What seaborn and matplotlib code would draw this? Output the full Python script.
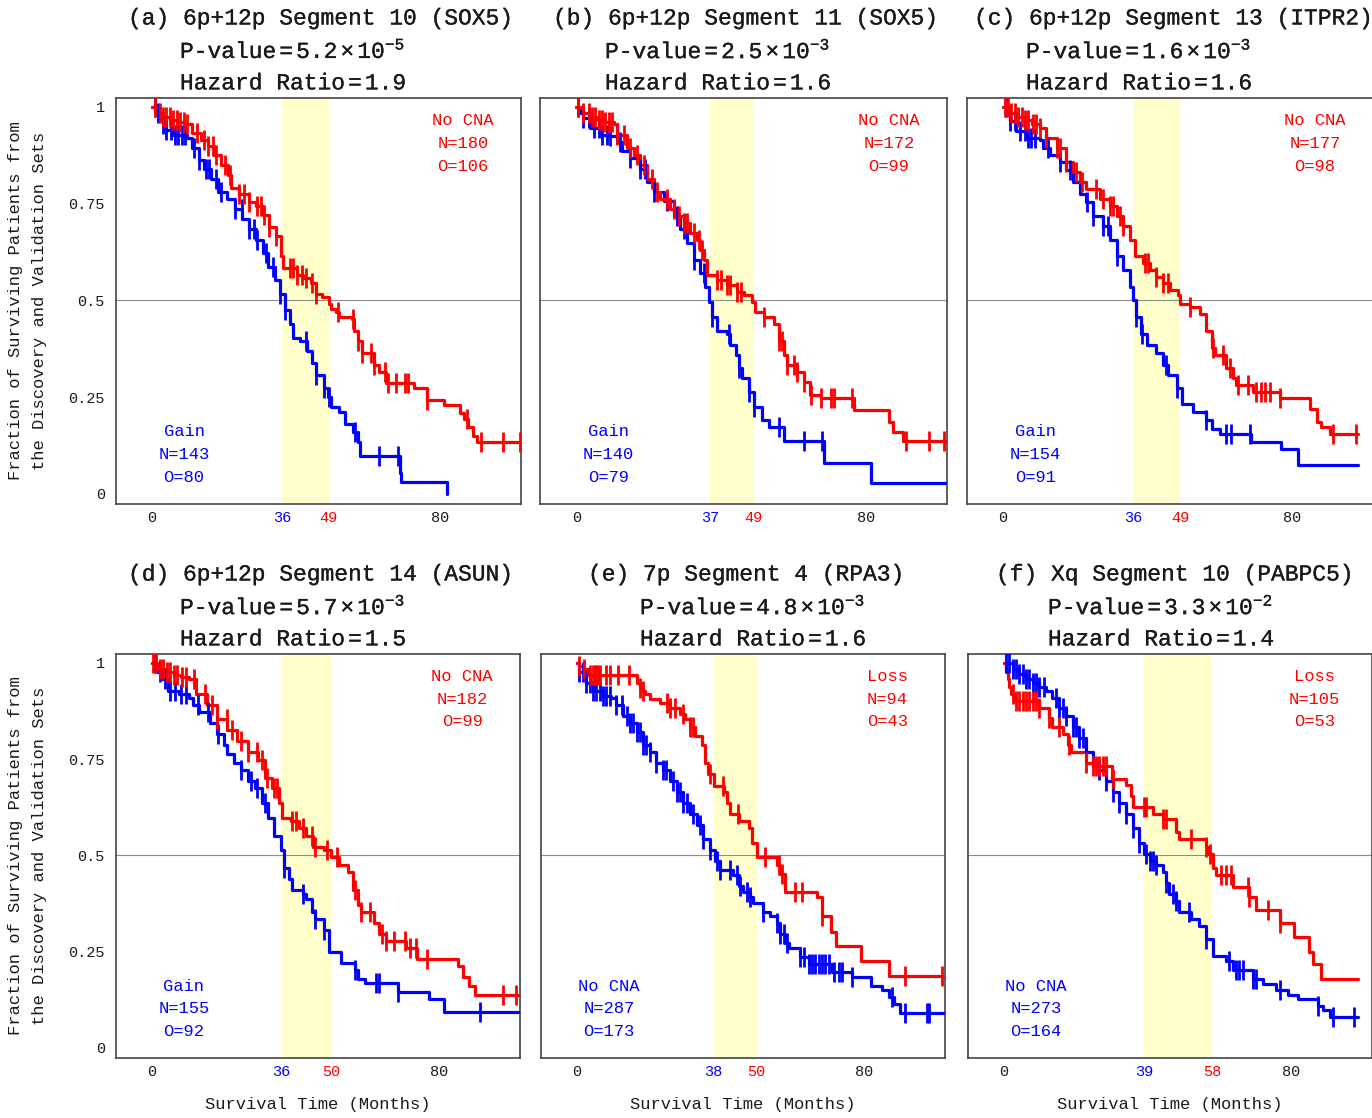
import numpy as np
import matplotlib
matplotlib.use("Agg")
import matplotlib.pyplot as plt
import matplotlib.patheffects as pe
import seaborn as sns

# ---------------- data ----------------
titles = ["(a) 6p+12p Segment 10 (SOX5)", "(b) 6p+12p Segment 11 (SOX5)",
          "(c) 6p+12p Segment 13 (ITPR2)", "(d) 6p+12p Segment 14 (ASUN)",
          "(e) 7p Segment 4 (RPA3)", "(f) Xq Segment 10 (PABPC5)"]
p_mant = ["5.2", "2.5", "1.6", "5.7", "4.8", "3.3"]
p_exp = ["-5", "-3", "-3", "-3", "-3", "-2"]
hazard = ["1.9", "1.6", "1.6", "1.5", "1.6", "1.4"]
red_labels = ["No CNA", "No CNA", "No CNA", "No CNA", "Loss", "Loss"]
blue_labels = ["Gain", "Gain", "Gain", "Gain", "No CNA", "No CNA"]
red_N = [180, 172, 177, 182, 94, 105]
red_O = [106, 99, 98, 99, 43, 53]
blue_N = [143, 140, 154, 155, 287, 273]
blue_O = [80, 79, 91, 92, 173, 164]
blue_median = [36, 37, 36, 36, 38, 39]
red_median = [49, 49, 49, 50, 50, 58]

# panel a
a_red_t = [0, 1.5, 3, 5, 7, 9, 11, 13.5, 15.4, 17.3, 19.2, 21, 22, 24, 26.9, 28.8, 30.7, 32.6, 34.5, 35.9, 36.4,
           40.2, 42, 44, 45.4, 47.3, 49.2, 49.7, 51.1, 52, 55.4, 56, 57.3, 58.3, 61.6, 63.1, 65, 72.6, 76.4, 81.1,
           85.4, 86.5, 87.8, 89, 90.2, 102.4]
a_red_s = [1, 0.985, 0.975, 0.965, 0.96, 0.955, 0.933, 0.915, 0.9, 0.876, 0.85, 0.823, 0.79, 0.775, 0.753, 0.745,
           0.72, 0.69, 0.666, 0.614, 0.583, 0.566, 0.557, 0.544, 0.517, 0.509, 0.491, 0.478, 0.469, 0.456, 0.452,
           0.421, 0.395, 0.364, 0.334, 0.316, 0.286, 0.273, 0.242, 0.229, 0.21, 0.194, 0.172, 0.15, 0.133, 0.133]
a_red_c = [0.7, 2.1, 3.0, 4.0, 4.9, 5.9, 6.9, 7.8, 8.8, 9.7, 12.6, 14.5, 15.4, 16.9, 17.8, 20.2, 21.6, 24.0, 25.4,
           26.9, 29.2, 30.2, 31.1, 32.6, 34.5, 38.3, 39.2, 40.2, 41.6, 42.6, 44.5, 45.4, 51.6, 55.9, 57.3, 58.3,
           60.7, 61.6, 64.6, 65.5, 67.8, 70.2, 71.1, 76.4, 87.4, 91.2, 97.4, 102.2]
a_blue_t = [0, 1, 2, 3, 4, 5.9, 9.7, 11, 13, 14.5, 16.4, 18.3, 20.7, 23, 25, 26.9, 28.8, 30.7, 32.1, 34, 35.4, 36.9,
            38.3, 39.2, 41, 43, 44.5, 45.4, 47.8, 48.8, 49.7, 52, 53.5, 55.9, 57.3, 57.8, 68.8, 69.2, 82]
a_blue_s = [1, 0.985, 0.972, 0.955, 0.94, 0.928, 0.92, 0.893, 0.863, 0.84, 0.815, 0.78, 0.762, 0.736, 0.71, 0.684,
            0.657, 0.622, 0.587, 0.552, 0.517, 0.474, 0.439, 0.404, 0.395, 0.369, 0.338, 0.308, 0.273, 0.251, 0.225,
            0.212, 0.181, 0.159, 0.133, 0.098, 0.054, 0.032, 0.0]
a_blue_c = [0.7, 1.6, 3.0, 4.0, 5.4, 6.4, 7.3, 8.3, 9.2, 11.6, 13.0, 14.9, 15.8, 17.7, 19.2, 23.0, 24.9, 26.9, 28.2,
            29.2, 31.6, 33.5, 35.4, 36.9, 42.6, 45.4, 47.8, 49.2, 56.4, 63.1, 68.3]

# panel b
b_red_t = [0, 2, 4, 6, 8, 10.3, 11.3, 14, 15.9, 17.7, 19.6, 21.4, 23.2, 26, 27.9, 29.7, 31.5, 33.4, 34.3, 35.2, 36.2,
           38.9, 41.7, 44.5, 46.3, 48.6, 49.5, 51.8, 54.6, 56, 57.3, 58.3, 61, 62.9, 64.7, 67.5, 76.8, 86.5, 87.5,
           90.2, 102.7]
b_red_s = [1, 0.985, 0.975, 0.965, 0.96, 0.955, 0.928, 0.893, 0.876, 0.85, 0.815, 0.78, 0.762, 0.736, 0.718, 0.7,
           0.675, 0.657, 0.63, 0.605, 0.566, 0.552, 0.539, 0.522, 0.513, 0.496, 0.469, 0.456, 0.439, 0.395, 0.36,
           0.334, 0.316, 0.29, 0.255, 0.247, 0.216, 0.185, 0.159, 0.137, 0.137]
b_red_c = [0.6, 2.0, 3.4, 4.3, 5.3, 6.2, 7.1, 8.0, 9.0, 9.9, 11.3, 13.1, 14.9, 16.8, 18.6, 20.9, 22.3, 25.1, 26.9,
           28.3, 29.7, 30.6, 32.5, 33.9, 34.8, 38.9, 39.9, 41.7, 42.6, 44.5, 45.4, 51.8, 56.0, 56.9, 58.3, 60.2,
           61.1, 62.9, 64.8, 67.5, 70.3, 71.2, 76.3, 91.1, 97.5, 101.7]
b_blue_t = [0, 1, 2, 3.9, 6.6, 9.4, 11.3, 12.6, 14.9, 17.7, 19.6, 21.4, 24.2, 26.9, 28.8, 30.6, 32.5, 34.3, 35.7,
            36.6, 37.5, 38.9, 41.7, 42.6, 44, 44.9, 45.8, 47.7, 49, 51.4, 53.3, 57.4, 68.4, 81.4, 102.7]
b_blue_s = [1, 0.985, 0.972, 0.946, 0.928, 0.924, 0.91, 0.885, 0.867, 0.84, 0.806, 0.78, 0.758, 0.718, 0.684, 0.649,
            0.605, 0.57, 0.535, 0.496, 0.456, 0.421, 0.413, 0.386, 0.36, 0.325, 0.299, 0.264, 0.225, 0.19, 0.172,
            0.137, 0.08, 0.028, 0.028]
b_blue_c = [0.6, 2.0, 3.4, 4.8, 6.2, 7.1, 8.5, 9.4, 12.2, 14.9, 17.7, 19.1, 21.4, 25.1, 27.9, 29.7, 32.5, 35.2, 37.6,
            42.2, 44.9, 47.7, 49.1, 56.0, 62.9, 68.0]

# panel c
c_red_t = [0, 2, 4, 6, 8, 10.1, 12, 14.8, 17.5, 19.4, 21.2, 23, 26.8, 29.5, 31.4, 33.2, 35, 36.4, 38.7, 40.6, 42.4,
           44.3, 46.1, 48.4, 48.9, 51.7, 54.4, 56.3, 57.7, 58.6, 61.8, 63.7, 64.6, 69.2, 76.6, 84.9, 86.8, 88.1,
           90.4, 98.3]
c_red_s = [1, 0.985, 0.975, 0.965, 0.955, 0.946, 0.92, 0.893, 0.858, 0.832, 0.806, 0.788, 0.762, 0.745, 0.718, 0.692,
           0.657, 0.614, 0.596, 0.579, 0.561, 0.544, 0.526, 0.513, 0.491, 0.483, 0.465, 0.421, 0.378, 0.36, 0.325,
           0.299, 0.281, 0.264, 0.247, 0.22, 0.185, 0.172, 0.155, 0.155]
c_red_c = [0.5, 1.4, 2.3, 3.2, 4.2, 5.1, 6.0, 6.9, 8.3, 9.2, 10.1, 12.0, 14.8, 15.7, 17.5, 20.3, 21.7, 25.8, 27.7,
           29.5, 30.4, 32.3, 33.2, 39.2, 40.1, 42.4, 44.3, 45.7, 51.7, 58.1, 60.9, 62.7, 65.0, 67.8, 70.1, 71.5,
           72.4, 73.8, 76.6, 91.3, 97.8]
c_blue_t = [0, 1.8, 3.7, 6.5, 10.1, 11.1, 12.9, 15.7, 17.5, 19.4, 21.2, 23, 24.9, 27.7, 29.5, 31.4, 33.2, 35, 36,
            36.9, 38.3, 39.7, 42.4, 44.3, 45.6, 48, 49.4, 52.6, 56.3, 57.7, 60, 68.7, 77, 81.6, 98.3]
c_blue_s = [1, 0.963, 0.937, 0.92, 0.915, 0.893, 0.876, 0.858, 0.837, 0.806, 0.776, 0.753, 0.718, 0.692, 0.657,
            0.614, 0.579, 0.535, 0.5, 0.456, 0.413, 0.386, 0.365, 0.334, 0.308, 0.273, 0.233, 0.212, 0.19, 0.168,
            0.155, 0.133, 0.115, 0.076, 0.076]
c_blue_c = [0.9, 1.8, 3.2, 4.6, 6.0, 6.9, 7.8, 8.8, 12.5, 15.7, 18.5, 23.1, 24.9, 27.7, 29.1, 31.4, 36.9, 38.4,
            45.2, 48.0, 56.3, 61.8, 63.2, 68.3]

# panel d
d_red_t = [0, 2, 4, 6, 8, 10.4, 12.3, 15.2, 18, 21, 23.8, 26.7, 29.5, 31.5, 33.4, 35.3, 36.3, 38.7, 41, 43, 44.9,
           47.8, 49.7, 52.1, 54.5, 55.9, 57.4, 58.3, 61.7, 63.1, 65, 70.8, 73.7, 85.2, 86.6, 88.1, 90, 102.2]
d_red_s = [1, 0.985, 0.975, 0.968, 0.962, 0.957, 0.919, 0.891, 0.853, 0.825, 0.796, 0.768, 0.749, 0.702, 0.674,
           0.636, 0.598, 0.589, 0.57, 0.551, 0.523, 0.514, 0.495, 0.476, 0.457, 0.41, 0.372, 0.353, 0.325, 0.297,
           0.278, 0.259, 0.231, 0.212, 0.184, 0.16, 0.137, 0.137]
d_red_c = [0.3, 1.2, 2.2, 3.2, 4.1, 5.1, 6.0, 7.0, 8.4, 9.4, 11.8, 14.7, 16.6, 18.0, 20.9, 22.4, 24.7, 26.7, 29.1,
           30.5, 32.0, 33.9, 34.8, 39.1, 40.1, 42.0, 44.4, 45.4, 48.7, 51.6, 56.4, 58.3, 60.7, 64.1, 65.0, 67.4,
           70.3, 71.7, 73.6, 76.5, 97.6, 101.4]
d_blue_t = [0, 1.5, 2.7, 4.6, 7.5, 10.4, 11.3, 13.2, 16.1, 18, 20, 21, 22.8, 24.7, 26.7, 28.6, 30.5, 32.4, 33.9,
            35.8, 36.7, 38.2, 39.1, 42, 43, 44.4, 45.4, 47.8, 49.2, 52.6, 56.4, 57.4, 59.3, 68.4, 77, 81.3, 102.2]
d_blue_s = [1, 0.975, 0.957, 0.928, 0.919, 0.91, 0.891, 0.872, 0.844, 0.815, 0.787, 0.763, 0.74, 0.721, 0.693, 0.674,
            0.636, 0.598, 0.551, 0.514, 0.467, 0.438, 0.41, 0.4, 0.386, 0.353, 0.334, 0.306, 0.25, 0.221, 0.203,
            0.179, 0.17, 0.146, 0.127, 0.094, 0.094]
d_blue_c = [0.8, 2.2, 3.6, 5.1, 6.5, 8.0, 9.4, 12.8, 15.6, 18.5, 24.7, 27.6, 29.1, 31.5, 36.7, 42.0, 45.4, 47.8,
            56.4, 62.2, 63.1, 68.4, 91.4]

# panel e
e_red_t = [0, 0.7, 1.7, 3.1, 16.6, 17.5, 18.4, 18.9, 20.3, 23, 25.9, 28.7, 30, 31.4, 32.8, 34.7, 35.6, 36.6, 38,
           40.8, 41.7, 42.7, 45, 47.8, 48.7, 50, 55.6, 56.6, 57.9, 66.8, 68.2, 70.6, 72, 78.9, 86.8, 102.6]
e_red_s = [1, 0.993, 0.985, 0.968, 0.947, 0.935, 0.928, 0.919, 0.905, 0.896, 0.882, 0.868, 0.853, 0.834, 0.811,
           0.787, 0.74, 0.711, 0.679, 0.664, 0.636, 0.608, 0.589, 0.57, 0.532, 0.495, 0.476, 0.453, 0.405, 0.391,
           0.344, 0.302, 0.264, 0.226, 0.188, 0.188]
e_red_c = [0.7, 2.1, 3.5, 4.5, 4.9, 5.4, 5.9, 6.3, 8.2, 9.1, 11.4, 14.5, 17.5, 18.4, 25.0, 25.9, 27.3, 29.6, 31.4,
           32.4, 37.0, 40.7, 44.9, 52.4, 56.1, 57.0, 60.7, 62.6, 68.2, 91.4, 101.7]
e_blue_t = [0, 0.7, 2.6, 4.5, 7.3, 9.6, 11, 12.8, 14.7, 16.6, 18.4, 20.3, 22.1, 24, 25.9, 27.7, 29.6, 31.4, 33.3,
            35.2, 37, 38.4, 39.8, 43.5, 45, 46.3, 48.2, 49.1, 51.9, 53.8, 55.6, 56.6, 58, 58.9, 62.1, 64.5, 71, 76.6,
            81.7, 84.9, 86.8, 88.2, 90, 102.6]
e_blue_s = [1, 0.976, 0.947, 0.928, 0.914, 0.91, 0.891, 0.862, 0.844, 0.82, 0.787, 0.768, 0.74, 0.721, 0.693, 0.664,
            0.636, 0.608, 0.58, 0.542, 0.514, 0.486, 0.462, 0.448, 0.42, 0.405, 0.391, 0.377, 0.353, 0.344, 0.325,
            0.297, 0.273, 0.259, 0.236, 0.217, 0.198, 0.184, 0.16, 0.151, 0.132, 0.113, 0.09, 0.09]
e_blue_c = [0.7, 1.7, 2.6, 3.5, 4.5, 5.4, 6.3, 7.3, 8.2, 9.1, 11.0, 12.4, 13.8, 14.7, 15.6, 16.6, 17.5, 18.4, 19.3,
            20.3, 22.1, 24.0, 24.9, 26.8, 27.7, 28.6, 29.6, 30.5, 32.4, 34.2, 35.2, 37.0, 38.9, 39.8, 42.6, 44.5,
            45.4, 47.3, 48.2, 51.9, 55.6, 56.6, 57.5, 58.4, 62.1, 63.1, 64.5, 65.4, 66.3, 67.3, 68.2, 69.1, 70.1,
            71.5, 72.8, 73.8, 76.6, 87.7, 91.4, 97.5, 98.0]

# panel f
f_red_t = [0, 0.6, 1, 1.5, 2, 2.9, 9.8, 12.6, 13.5, 16.3, 17.7, 18.6, 22.8, 24.7, 30.2, 33.9, 35.4, 35.8, 41.4, 44.2,
           47.9, 48.8, 56.2, 56.7, 58.1, 59, 63.7, 68.3, 70.2, 76.7, 80.8, 85, 85.9, 88.3, 98.5]
f_red_s = [1, 0.976, 0.957, 0.938, 0.919, 0.9, 0.882, 0.858, 0.834, 0.815, 0.787, 0.768, 0.74, 0.731, 0.698, 0.683,
           0.655, 0.627, 0.608, 0.594, 0.561, 0.542, 0.523, 0.504, 0.467, 0.448, 0.419, 0.391, 0.358, 0.325, 0.287,
           0.25, 0.217, 0.179, 0.179]
f_red_c = [2.4, 3.3, 4.3, 5.2, 6.1, 7.1, 8.0, 8.9, 9.8, 12.6, 15.4, 18.2, 22.8, 24.7, 25.6, 26.5, 27.5, 28.4, 30.3,
           39.1, 39.5, 44.2, 45.1, 52.1, 56.2, 57.2, 60.4, 61.8, 63.2, 67.8, 68.3, 73.4, 76.7]
f_blue_t = [0, 2.4, 4.3, 6.1, 8, 9.8, 11.7, 13.5, 15.4, 17.2, 19.1, 21, 22.8, 24.7, 26.5, 28.4, 30.3, 32.1, 34, 35.8,
            37.7, 39, 40.5, 42.3, 44.2, 45.1, 46, 47.9, 48.8, 52, 54.4, 56.2, 58.1, 61.8, 63.7, 69.2, 72, 75.7, 79,
            81.8, 87.3, 88.7, 90.6, 98.5]
f_blue_s = [1, 0.985, 0.971, 0.957, 0.947, 0.938, 0.928, 0.91, 0.882, 0.862, 0.834, 0.806, 0.768, 0.74, 0.721, 0.693,
            0.664, 0.636, 0.608, 0.57, 0.533, 0.504, 0.485, 0.476, 0.457, 0.429, 0.4, 0.382, 0.353, 0.334, 0.316,
            0.283, 0.24, 0.226, 0.203, 0.179, 0.165, 0.151, 0.137, 0.127, 0.108, 0.099, 0.08, 0.08]
f_blue_c = [0.6, 1.5, 2.4, 3.3, 4.3, 5.2, 6.1, 7.1, 8.0, 8.9, 9.8, 11.2, 14.5, 15.4, 16.3, 17.3, 19.1, 20.0, 21.0,
            21.9, 22.8, 26.5, 28.4, 30.3, 32.1, 34.0, 35.8, 37.7, 39.5, 40.5, 41.4, 42.3, 45.1, 47.0, 47.9, 51.6,
            56.2, 62.7, 64.6, 65.5, 66.4, 69.2, 70.2, 76.7, 87.3, 91.5, 97.5]

red_curves = [(a_red_t, a_red_s, a_red_c), (b_red_t, b_red_s, b_red_c), (c_red_t, c_red_s, c_red_c),
              (d_red_t, d_red_s, d_red_c), (e_red_t, e_red_s, e_red_c), (f_red_t, f_red_s, f_red_c)]
blue_curves = [(a_blue_t, a_blue_s, a_blue_c), (b_blue_t, b_blue_s, b_blue_c), (c_blue_t, c_blue_s, c_blue_c),
               (d_blue_t, d_blue_s, d_blue_c), (e_blue_t, e_blue_s, e_blue_c), (f_blue_t, f_blue_s, f_blue_c)]

# ---------------- style ----------------
sns.set_style("white")
plt.rcParams["font.family"] = ["Liberation Mono", "DejaVu Sans"]
plt.rcParams["mathtext.fontset"] = "custom"
plt.rcParams["mathtext.rm"] = "Liberation Mono"
plt.rcParams["mathtext.it"] = "Liberation Mono"
plt.rcParams["mathtext.bf"] = "Liberation Mono:bold"

RED = "#ff0000"
BLUE = "#0000ff"
SPINE = "#444444"
TXT = "#1a1a1a"
heavy = [pe.withStroke(linewidth=0.2, foreground=TXT)]

W, H = 1372, 1118
fig = plt.figure(figsize=(W / 100, H / 100), dpi=100)

# axes boxes in pixels: left, top, width, height
boxes = [(116, 98, 405, 406), (540, 98, 407, 406), (967, 98, 406, 406),
         (116, 654, 404, 404), (541, 654, 404, 404), (968, 654, 404, 404)]
title_x = [128, 553, 974, 128, 588, 996]


def step_at(t, s, x):
    t = np.asarray(t)
    s = np.asarray(s)
    idx = np.searchsorted(t, np.asarray(x), side="right") - 1
    return s[np.clip(idx, 0, len(s) - 1)]


for i in range(6):
    l, top, w, h = boxes[i]
    ax = fig.add_axes([l / W, 1 - (top + h) / H, w / W, h / H])
    ax.set_facecolor("white")
    ax.axvspan(blue_median[i], red_median[i], color="#ffffcc", zorder=0, lw=0)
    ax.axhline(0.5, color="#8c8c8c", lw=0.8, zorder=1)

    for (t, s, c), col in ((blue_curves[i], BLUE), (red_curves[i], RED)):
        sns.lineplot(x=t, y=s, ax=ax, color=col, lw=2.3, drawstyle="steps-post",
                     estimator=None, sort=False, legend=False, zorder=3)
        cy = step_at(t, s, c)
        sns.scatterplot(x=c, y=cy, ax=ax, marker="|", s=210, color=col,
                        linewidth=2.0, legend=False, zorder=4)

    ax.set_xlim(-10, 102.4)
    ax.set_ylim(-0.026, 1.023)
    ax.set_xlabel("")
    ax.set_ylabel("")
    ax.set_xticks([0, blue_median[i], red_median[i], 80])
    ax.set_xticklabels(["0", str(blue_median[i]), str(red_median[i]), "80"])
    ax.set_yticks([0, 0.25, 0.5, 0.75, 1])
    if i % 3 == 0:
        ax.set_yticklabels(["0", "0.25", "0.5", "0.75", "1"])
    else:
        ax.set_yticklabels([])
    ax.tick_params(axis="both", direction="in", length=5, width=1, color=SPINE,
                   labelsize=11, labelcolor=TXT)
    ax.tick_params(axis="y", pad=8)
    ax.tick_params(axis="x", pad=5)
    tl = ax.get_xticklabels()
    tl[1].set_color(BLUE)
    tl[2].set_color(RED)
    for sp in ax.spines.values():
        sp.set_color(SPINE)
        sp.set_linewidth(1.2)
        sp.set_visible(True)

    # group annotations
    for k, txt in enumerate([red_labels[i], f"N={red_N[i]}", f"O={red_O[i]}"]):
        ax.text(0.857, 0.945 - k * 0.0565, txt, transform=ax.transAxes, ha="center",
                va="center", color=RED, fontsize=12.3)
    for k, txt in enumerate([blue_labels[i], f"N={blue_N[i]}", f"O={blue_O[i]}"]):
        ax.text(0.168, 0.178 - k * 0.0565, txt, transform=ax.transAxes, ha="center",
                va="center", color=BLUE, fontsize=12.3)

    # titles
    x0 = title_x[i]
    fig.text(x0 / W, 1 - (top - 80) / H, titles[i], ha="left", va="center",
             fontsize=16.5, color=TXT, path_effects=heavy)
    fig.text((x0 + 52) / W, 1 - (top - 47) / H,
             "P-value$\\:$=$\\:$" + p_mant[i] + "$\\:$×$\\:10^{" + p_exp[i] + "}$",
             ha="left", va="center", fontsize=16.5, color=TXT, path_effects=heavy)
    fig.text((x0 + 52) / W, 1 - (top - 15) / H,
             "Hazard Ratio$\\:$=$\\:$" + hazard[i], ha="left", va="center",
             fontsize=16.5, color=TXT, path_effects=heavy)

    if i >= 3:
        fig.text((l + w / 2) / W, 1 - 1105 / H, "Survival Time (Months)", ha="center",
                 va="center", fontsize=12.3, color=TXT)
    if i % 3 == 0:
        fig.text(27.5 / W, 1 - (top + h / 2) / H,
                 "Fraction of Surviving Patients from\nthe Discovery and Validation Sets",
                 rotation=90, ha="center", va="center", multialignment="center",
                 fontsize=12.3, color=TXT, linespacing=1.7)

fig.savefig("out.png", dpi=100)
